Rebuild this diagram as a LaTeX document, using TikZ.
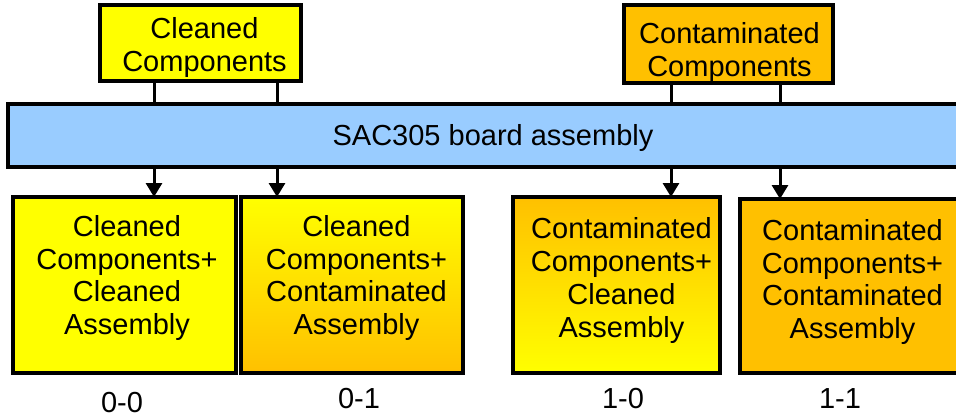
\documentclass[tikz,border=0pt]{standalone}
\usepackage{fontspec}
\setmainfont{Liberation Sans}
\usetikzlibrary{arrows.meta}
\definecolor{cyel}{HTML}{FFFF00}
\definecolor{corg}{HTML}{FFC000}
\definecolor{cblu}{HTML}{99CCFF}
\tikzset{
  boxline/.style={draw=black, line width=3.5pt, outer sep=0pt, inner sep=0pt},
  txt/.style={font=\fontsize{29}{33}\selectfont, align=center, inner sep=0pt},
  conn/.style={line width=3pt},
  arr/.style={line width=3pt, -{Triangle[width=16pt,length=14pt]}},
}
\begin{document}
\begin{tikzpicture}[x=1pt,y=-1pt]
\useasboundingbox (0,0) rectangle (956,417);
\clip (0,0) rectangle (956,417);
% top boxes
\node[boxline, fill=cyel, minimum width=201pt, minimum height=76pt] (c1) at (200.5,43) {};
\node[boxline, fill=corg, minimum width=209pt, minimum height=78pt] (c2) at (728.5,44) {};
\node[txt] (c1t) at (204.5,48) {Cleaned\\Components};
\node[txt] (c2t) at (729.5,53) {Contaminated\\Components};
\draw[line width=3.5pt] (c1.south west) -- (c1.south east);
\draw[line width=3.5pt] (c2.south west) -- (c2.south east);
% bar
\node[boxline, fill=cblu, minimum width=972pt, minimum height=63pt] (bar) at (494,135.5) {};
\node[txt] (bart) at (493,138) {SAC305 board assembly};
% bottom boxes
\node[boxline, fill=cyel, minimum width=223pt, minimum height=176pt] (b1) at (124.5,285) {};
\node[boxline, top color=cyel, bottom color=corg, minimum width=222pt, minimum height=176pt] (b2) at (352,285) {};
\node[boxline, top color=corg, bottom color=cyel, minimum width=207pt, minimum height=176pt] (b3) at (616.5,285) {};
\node[boxline, fill=corg, minimum width=225pt, minimum height=174pt] (b4) at (852.5,286) {};
\node[txt] (b1t) at (127,278) {Cleaned\\Components+\\Cleaned\\Assembly};
\node[txt] (b2t) at (356.5,278) {Cleaned\\Components+\\Contaminated\\Assembly};
\node[txt] (b3t) at (621.5,281) {Contaminated\\Components+\\Cleaned\\Assembly};
\node[txt] (b4t) at (852.5,282) {Contaminated\\Components+\\Contaminated\\Assembly};
% x positions
\coordinate (x1) at (154,0);
\coordinate (x2) at (277,0);
\coordinate (x3) at (671,0);
\coordinate (x4) at (780,0);
% connectors
\draw[conn] (c1.south -| x1) -- (bar.north -| x1);
\draw[conn] (c1.south -| x2) -- (bar.north -| x2);
\draw[conn] (c2.south -| x3) -- (bar.north -| x3);
\draw[conn] (c2.south -| x4) -- (bar.north -| x4);
\draw[arr] (bar.south -| x1) -- (b1.north -| x1);
\draw[arr] (bar.south -| x2) -- (b2.north -| x2);
\draw[arr] (bar.south -| x3) -- (b3.north -| x3);
\draw[arr] (bar.south -| x4) -- (b4.north -| x4);
% labels
\node[txt, anchor=base] (l1) at (122,412) {0-0};
\node[txt, anchor=base] (l2) at (359,408) {0-1};
\node[txt, anchor=base] (l3) at (623,408) {1-0};
\node[txt, anchor=base] (l4) at (840,408) {1-1};
\end{tikzpicture}
\end{document}
